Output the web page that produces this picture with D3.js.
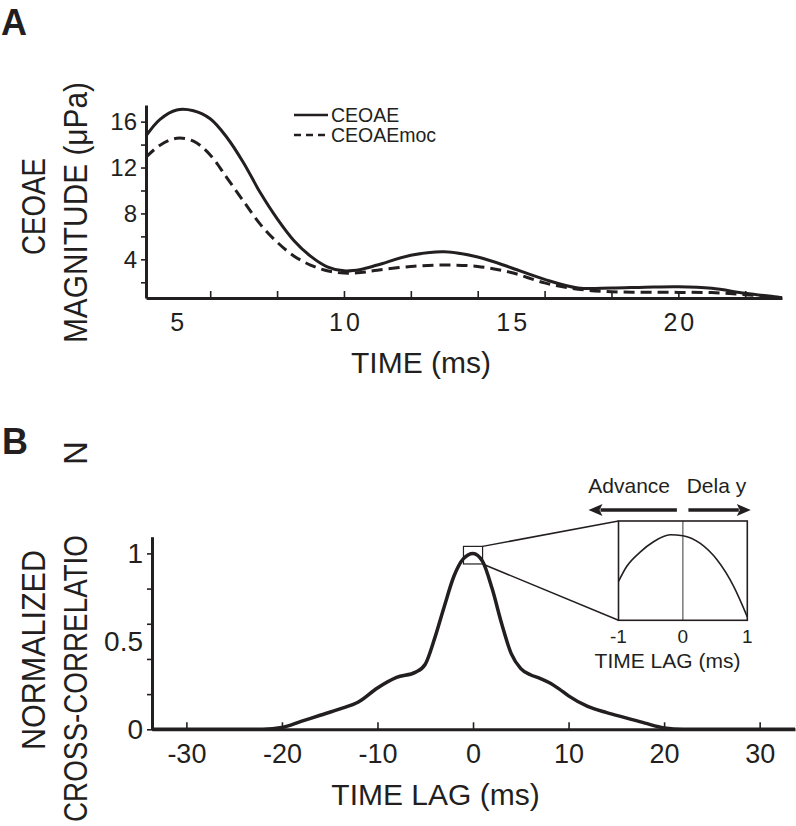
<!DOCTYPE html>
<html>
<head>
<meta charset="utf-8">
<script src="https://cdn.jsdelivr.net/npm/d3@7/dist/d3.min.js"></script>
<style>
  html, body { margin: 0; padding: 0; background: #fff; }
  svg { display: block; font-family: "Liberation Sans", Arial, sans-serif; }
  text { fill: #231f20; }
</style>
</head>
<body>
<svg id="chart" width="796" height="826"></svg>
<script>
// ---------------- DATA ----------------
// Panel A: CEOAE magnitude vs time
const timeMs = [4.08, 4.5, 5, 5.5, 6, 6.5, 7, 7.5, 8, 8.5, 9, 9.5, 10, 10.5, 11, 12, 13, 14, 15, 16, 17, 18, 19, 20, 21, 22, 23.1];
const ceoae = [14.75, 16.2, 17.02, 16.95, 16.25, 14.62, 12.4, 9.8, 7.55, 5.65, 4.28, 3.35, 3.0, 3.12, 3.5, 4.35, 4.66, 4.2, 3.27, 2.25, 1.5, 1.5, 1.57, 1.61, 1.47, 1.04, 0.66];
const ceoaeMoc = [12.9, 13.95, 14.55, 14.3, 13.1, 11.1, 9.05, 7.05, 5.5, 4.3, 3.5, 3.0, 2.8, 2.85, 3.05, 3.38, 3.5, 3.38, 2.85, 1.95, 1.4, 1.18, 1.13, 1.12, 1.1, 0.92, 0.66];
const seriesNamesA = ["CEOAE", "CEOAEmoc"];
const timeTicksMinor = [6, 8, 10, 12, 14, 16, 18, 20, 22];
const timeTickLabels = [5, 10, 15, 20];
const magTicks = [2, 4, 6, 8, 10, 12, 14, 16];
const magTickLabels = [4, 8, 12, 16];

// Panel B: normalized cross-correlation vs time lag
const lagMs = [-33.6, -22, -20, -18, -16, -14, -12, -10, -8, -6, -5, -4, -3, -2, -1, 0, 1, 2, 3, 4, 5, 6, 7, 8, 9, 10, 12, 14, 16, 18, 20, 22, 33.7];
const xcorr = [0, 0, 0.01, 0.045, 0.08, 0.115, 0.155, 0.235, 0.295, 0.325, 0.37, 0.52, 0.70, 0.87, 0.97, 1.0, 0.955, 0.80, 0.60, 0.43, 0.345, 0.31, 0.29, 0.265, 0.23, 0.19, 0.13, 0.095, 0.065, 0.035, 0.008, 0, 0];
const lagTicks = [-30, -20, -10, 0, 10, 20, 30];
const corrTicks = [0, 0.2, 0.4, 0.6, 0.8, 1.0];
const corrTickLabels = [0, 0.5, 1];

// Inset: zoom on the peak
const insetLag = [-1, -0.876, -0.664, -0.456, -0.197, 0, 0.27, 0.53, 0.79, 1.0];
const insetCorr = [0.945, 0.962, 0.979, 0.991, 0.999, 0.998, 0.989, 0.970, 0.939, 0.904];
const insetTicks = [-1, 0, 1];
const zoomLagRange = [-1, 1];
const zoomCorrRange = [0.94, 1.04];

// ---------------- DRAWING ----------------
const ink = "#231f20";
const svg = d3.select("#chart");
svg.append("rect").attr("width", 796).attr("height", 826).attr("fill", "#fff");
const fmt = d => String(d); // plain hyphen minus like the reference

function vtext(x, y, str, size, len, anchor) {
  const t = svg.append("text")
    .attr("transform", `translate(${x},${y}) rotate(-90)`)
    .attr("text-anchor", anchor || "middle")
    .style("font-size", size + "px")
    .text(str);
  if (len) t.attr("textLength", len).attr("lengthAdjust", "spacingAndGlyphs");
  return t;
}
function styleAxis(g, fontSize) {
  g.selectAll(".domain").attr("stroke", ink).attr("stroke-width", 3);
  g.selectAll(".tick line").attr("stroke", ink).attr("stroke-width", 1.6);
  g.selectAll(".tick text").attr("fill", ink).style("font-size", fontSize + "px")
    .style("font-family", '"Liberation Sans", Arial, sans-serif');
}

// ===== Panel A =====
const xA = d3.scaleLinear().domain([4.08, 23.1]).range([146, 782]);
const yA = d3.scaleLinear().domain([0.63, 17.45]).range([298, 105]);

const gAy = svg.append("g").attr("transform", `translate(${xA.range()[0]},0)`)
  .call(d3.axisLeft(yA).tickValues(magTicks).tickSize(5).tickSizeOuter(0).tickPadding(4)
    .tickFormat(d => magTickLabels.includes(d) ? fmt(d) : ""));
styleAxis(gAy, 24);

const gAx = svg.append("g").attr("transform", `translate(0,${yA.range()[0]})`)
  .call(d3.axisBottom(xA).tickValues(timeTicksMinor).tickSize(-7).tickSizeOuter(0).tickFormat(""));
styleAxis(gAx, 24);
const gAxl = svg.append("g").attr("transform", `translate(0,${yA.range()[0]})`)
  .call(d3.axisBottom(xA).tickValues(timeTickLabels).tickSize(0).tickPadding(15).tickFormat(fmt));
gAxl.select(".domain").remove();
styleAxis(gAxl, 25);
gAxl.selectAll(".tick text").style("letter-spacing", "3px").attr("dx", "1.5");

const lineA = (vals) => d3.line().x((d, i) => xA(timeMs[i])).y(d => yA(d)).curve(d3.curveCatmullRom.alpha(0.5))(vals);
svg.append("path").attr("d", lineA(ceoae)).attr("fill", "none").attr("stroke", ink).attr("stroke-width", 3);
svg.append("path").attr("d", lineA(ceoaeMoc)).attr("fill", "none").attr("stroke", ink).attr("stroke-width", 3)
  .attr("stroke-dasharray", "11,6");

// legend
const legX = 294, legY = [115, 135];
seriesNamesA.forEach((name, i) => {
  svg.append("line").attr("x1", legX).attr("x2", legX + 34).attr("y1", legY[i]).attr("y2", legY[i])
    .attr("stroke", ink).attr("stroke-width", 2.5).attr("stroke-dasharray", i ? "7,5" : null);
  svg.append("text").attr("x", legX + 37).attr("y", legY[i] + 7).style("font-size", "19.5px").text(name);
});

// axis titles A
svg.append("text").attr("x", 421).attr("y", 373).attr("text-anchor", "middle").style("font-size", "30px").text("TIME (ms)");
vtext(45, 206.5, "CEOAE", 33, 97);
vtext(87, 212.5, "MAGNITUDE (μPa)", 33, 261);
svg.append("text").attr("x", 1).attr("y", 35).style("font-size", "36px").style("font-weight", "bold").text("A");

// ===== Panel B =====
const xB = d3.scaleLinear().domain([-33.6, 33.7]).range([152, 795]);
const yB = d3.scaleLinear().domain([0, 1.095]).range([729.3, 536.7]);

const gBy = svg.append("g").attr("transform", `translate(${xB.range()[0]},0)`)
  .call(d3.axisLeft(yB).tickValues(corrTicks).tickSize(5).tickSizeOuter(0).tickFormat(""));
styleAxis(gBy, 28);
const gByl = svg.append("g").attr("transform", `translate(${xB.range()[0]},0)`)
  .call(d3.axisLeft(yB).tickValues(corrTickLabels).tickSize(0).tickPadding(9).tickFormat(fmt));
gByl.select(".domain").remove();
styleAxis(gByl, 28);

const gBx = svg.append("g").attr("transform", `translate(0,${yB.range()[0]})`)
  .call(d3.axisBottom(xB).tickValues(lagTicks).tickSize(-7).tickSizeOuter(0).tickPadding(14.5).tickFormat(fmt));
styleAxis(gBx, 27);

svg.append("path")
  .attr("d", d3.line().x((d, i) => xB(lagMs[i])).y(d => yB(d)).curve(d3.curveMonotoneX)(xcorr))
  .attr("fill", "none").attr("stroke", ink).attr("stroke-width", 3.5);

// zoom rectangle on main plot
const zx0 = xB(zoomLagRange[0]), zx1 = xB(zoomLagRange[1]);
const zy0 = yB(zoomCorrRange[1]), zy1 = yB(zoomCorrRange[0]);
svg.append("rect").attr("x", zx0).attr("y", zy0).attr("width", zx1 - zx0).attr("height", zy1 - zy0)
  .attr("fill", "none").attr("stroke", ink).attr("stroke-width", 1.2);

// inset
const xI = d3.scaleLinear().domain([-1, 1]).range([618.5, 747.3]);
const yI = d3.scaleLinear().domain([0.9, 1.015]).range([620.3, 521]);
svg.append("line").attr("x1", zx1).attr("y1", zy0).attr("x2", xI(-1)).attr("y2", yI.range()[1])
  .attr("stroke", ink).attr("stroke-width", 1.5);
svg.append("line").attr("x1", zx1).attr("y1", zy1).attr("x2", xI(-1)).attr("y2", yI.range()[0])
  .attr("stroke", ink).attr("stroke-width", 1.5);
svg.append("rect").attr("x", xI(-1)).attr("y", yI.range()[1]).attr("width", xI(1) - xI(-1))
  .attr("height", yI.range()[0] - yI.range()[1]).attr("fill", "#fff").attr("stroke", ink).attr("stroke-width", 1.6);
svg.append("line").attr("x1", xI(0)).attr("x2", xI(0)).attr("y1", yI.range()[1]).attr("y2", yI.range()[0])
  .attr("stroke", ink).attr("stroke-width", 0.9);
svg.append("path")
  .attr("d", d3.line().x((d, i) => xI(insetLag[i])).y(d => yI(d)).curve(d3.curveMonotoneX)(insetCorr))
  .attr("fill", "none").attr("stroke", ink).attr("stroke-width", 1.6);
insetTicks.forEach(t => {
  svg.append("text").attr("x", xI(t)).attr("y", 643).attr("text-anchor", "middle").style("font-size", "19px").text(fmt(t));
});
svg.append("text").attr("x", 667.5).attr("y", 668).attr("text-anchor", "middle").style("font-size", "21px").text("TIME LAG (ms)");

// Advance / Delay arrows
const arrY = 510;
const leftTip = xI(-1) - 30, leftStart = xI(0) - 6, rightStart = xI(0) + 5.5, rightTip = xI(1) + 3.5;
svg.append("line").attr("x1", leftStart).attr("x2", leftTip + 12).attr("y1", arrY).attr("y2", arrY)
  .attr("stroke", ink).attr("stroke-width", 3.5);
svg.append("path").attr("d", `M${leftTip},${arrY} L${leftTip + 14},${arrY - 6} L${leftTip + 11},${arrY} L${leftTip + 14},${arrY + 6} Z`).attr("fill", ink);
svg.append("line").attr("x1", rightStart).attr("x2", rightTip - 12).attr("y1", arrY).attr("y2", arrY)
  .attr("stroke", ink).attr("stroke-width", 3.5);
svg.append("path").attr("d", `M${rightTip},${arrY} L${rightTip - 14},${arrY - 6} L${rightTip - 11},${arrY} L${rightTip - 14},${arrY + 6} Z`).attr("fill", ink);
svg.append("text").attr("x", 588.3).attr("y", 493.3).style("font-size", "21px").text("Advance");
svg.append("text").attr("x", 686.7).attr("y", 493.3).style("font-size", "21px").text("Dela y");

// axis titles B
svg.append("text").attr("x", 435.5).attr("y", 805).attr("text-anchor", "middle").style("font-size", "30px").text("TIME LAG (ms)");
vtext(45, 650, "NORMALIZED", 33, 200);
vtext(87, 535, "CROSS-CORRELATIO", 33, 287, "end");
vtext(87, 453, "N", 33, null, "middle");
svg.append("text").attr("x", 2).attr("y", 454).style("font-size", "36px").style("font-weight", "bold").text("B");
</script>
</body>
</html>
